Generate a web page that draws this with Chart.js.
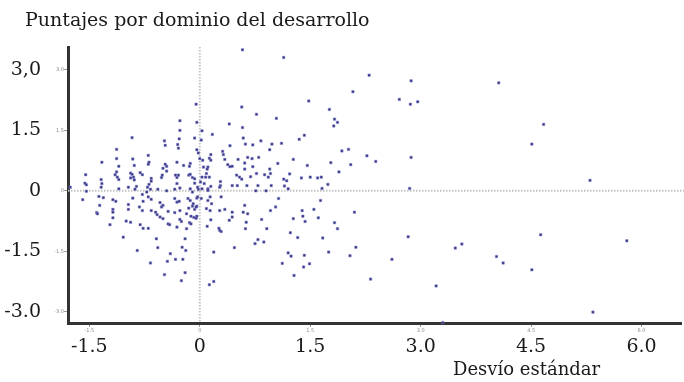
<!DOCTYPE html>
<html>
<head>
<meta charset="utf-8">
<script src="https://cdn.jsdelivr.net/npm/chart.js@4/dist/chart.umd.min.js"></script>
<style>
    html, body { margin: 0; padding: 0; background: #fff; }
    #wrap { width: 684px; height: 382px; position: relative; }
</style>
</head>
<body>
<div id="wrap"><canvas id="chart"></canvas></div>
<script>
// puntajes (x = desvío estándar, y = puntaje por dominio)
const xValues = [
    0.58, 1.14, 1.48, 1.76, 1.83, 1.87, 1.82, 0.57, 0.77, 1.04, 0.40, 0.58, 0.17, 0.59, 0.83, 0.62, 0.72, 0.41, 0.98, 1.11,
    1.35, 1.42, 0.95, 0.31, 0.32, 0.15, 0.13, 0.15, 0.65, 0.71, 0.80, 0.52, 0.34, 1.27, 0.61, 1.06, 1.78, 0.38, 0.41, 0.44,
    0.72, 1.46, 0.11, 0.10, 0.61, 0.95, 0.09, 0.77, 0.88, 0.93, 0.96, 0.50, 0.54, 0.57, 0.69, 1.22, 0.08, 0.13, 1.38, 1.50,
    1.60, 1.65, 1.14, 1.18, 0.28, 0.28, 0.44, 0.51, 0.64, 0.79, 0.97, 1.74, 1.66, 0.15, 0.11, 0.76, 0.90, 1.89,
    0.03, 0.02, 0.00, 0.04, 0.05, 0.03, 0.01, 0.06, 0.03,
    -0.05, -0.27, -0.27, -0.04, -0.92, -0.48, -0.47, -0.07, -0.28, -0.30, -0.29, -1.13, -0.04, -0.02, -0.70, -1.13, -0.91, -1.33, -0.69, -0.31,
    -0.22, -0.13, -0.14, -0.47, -0.45, -0.50, -1.10, -0.89, -0.70, -1.13, -1.15, -1.12, -1.10, -0.94, -0.92, -0.90, -0.89, -0.94, -0.81, -0.78,
    -1.55, -1.56, -1.54, -1.34, -1.33, -0.66, -0.66, -0.69, -0.71, -0.67, -0.51, -0.52, -0.45, -0.33, -0.31, -0.29, -0.15, -0.13, -0.10, -0.07,
    -0.31, -0.27, -0.07, -0.02, -0.97, -0.88, -0.57, -0.45, -1.76,
    -1.54, -1.34, -1.10, -0.86, -0.72, -0.34, -0.13, -0.10,
    -1.59, -1.37, -1.31, -1.18, -1.14, -0.91, -0.78, -0.70, -0.77, -0.66, -0.54, -0.50, -0.52, -0.34, -0.31, -0.28, -0.16, -0.13, -0.09, -0.04,
    -1.36, -0.97, -0.97, -0.82, -0.78, -1.40, -1.39, -1.18, -1.18, -0.60, -0.58, -0.54, -0.50, -0.66, -0.43, -0.34, -0.27, -0.18, -0.12, -0.08,
    -0.04, -0.15, -0.10, -0.07, -0.04, -1.18, -1.00, -0.94, -1.22, -0.81, -0.77, -0.70, -0.43, -0.41, -0.31, -0.27, -0.25, -0.14, -0.12, -0.18,
    -1.04, -0.59, -0.20, -0.57, -0.85, -0.24, -0.19, -0.40, -0.33, -0.23, -0.44, -0.67, -0.20, -0.48, -0.25,
    -0.03, 0.11, 0.27, 1.15, 1.20,
    -0.03, 0.02, 0.14, 0.11, 0.16, 0.29, 1.07, 1.64, -0.05, 0.09, 0.14, 0.27, 0.34, 0.44, 0.61, 0.59, 0.65, 1.03, 0.96, 1.39,
    1.40, 1.43, 1.55, 1.61, -0.05, 0.15, 0.44, 0.40, 0.63, 0.84, 1.27, 1.83, 1.87, 0.10, 0.26, 0.27, 0.29, 0.62, 0.91, 1.23,
    1.33, 1.67, 0.79, 0.75, 0.87, 0.47, 0.19, 1.20, 1.24, 1.42, 1.75, 1.12, 1.41, 1.49, 1.28, 0.13, 0.19,
    2.30, 2.87, 4.06, 2.08, 2.71, 2.86, 2.96, 1.93, 2.02, 2.27, 2.39, 2.87, 2.05, 2.85, 2.10, 2.83, 2.12, 2.04, 2.61, 3.47,
    3.56, 4.03, 4.12, 2.32, 3.21, 3.30,
    4.67, 4.51, 5.30, 4.63, 5.80, 4.51, 5.34
];
const yValues = [
    3.50, 3.31, 2.23, 2.02, 1.78, 1.70, 1.61, 2.08, 1.90, 1.80, 1.66, 1.57, 1.40, 1.31, 1.24, 1.16, 1.14, 1.12, 1.16, 1.18,
    1.28, 1.38, 1.02, 0.98, 0.90, 0.90, 0.81, 0.76, 0.83, 0.80, 0.83, 0.78, 0.78, 0.78, 0.69, 0.68, 0.70, 0.65, 0.60, 0.61,
    0.60, 0.63, 0.59, 0.54, 0.54, 0.54, 0.43, 0.43, 0.40, 0.34, 0.43, 0.39, 0.34, 0.29, 0.35, 0.42, 0.34, 0.34, 0.32, 0.34,
    0.32, 0.34, 0.29, 0.25, 0.23, 0.13, 0.13, 0.13, 0.13, 0.13, 0.13, 0.16, 0.06, 0.11, 0.05, 0.00, 0.00, 0.47,
    1.49, 1.26, 0.80, 0.76, 0.59, 0.34, 0.22, 0.18, 0.05,
    2.15, 1.74, 1.50, 1.70, 1.32, 1.24, 1.13, 1.31, 1.29, 1.15, 1.06, 1.03, 1.02, 0.94, 0.88, 0.80, 0.79, 0.71, 0.71, 0.71,
    0.63, 0.68, 0.61, 0.66, 0.61, 0.56, 0.61, 0.63, 0.66, 0.47, 0.40, 0.34, 0.28, 0.44, 0.41, 0.34, 0.27, 0.32, 0.45, 0.40,
    0.40, 0.19, 0.15, 0.28, 0.18, 0.31, 0.24, 0.16, 0.09, 0.04, 0.39, 0.33, 0.49, 0.39, 0.33, 0.39, 0.39, 0.41, 0.33, 0.30,
    0.18, 0.07, 0.19, 0.04, 0.09, 0.04, 0.04, 0.00, 0.09,
    -0.01, 0.09, 0.05, 0.11, -0.03, 0.04, 0.05, -0.03,
    -0.22, -0.14, -0.17, -0.22, -0.26, -0.18, -0.09, -0.15, -0.26, -0.21, -0.29, -0.36, -0.40, -0.19, -0.28, -0.26, -0.19, -0.24, -0.32, -0.18,
    -0.36, -0.34, -0.46, -0.40, -0.49, -0.54, -0.57, -0.46, -0.53, -0.53, -0.59, -0.65, -0.69, -0.49, -0.51, -0.54, -0.49, -0.57, -0.63, -0.66,
    -0.63, -0.43, -0.38, -0.46, -0.38, -0.67, -0.75, -0.78, -0.84, -0.84, -0.93, -0.93, -0.82, -0.84, -0.90, -0.71, -0.76, -0.79, -0.82, -0.94,
    -1.15, -1.19, -1.19, -1.41, -1.48, -1.40, -1.48, -1.56, -1.70, -1.70, -1.75, -1.79, -2.03, -2.08, -2.23,
    0.09, 0.01, 0.09, 0.12, 0.05,
    -0.15, -0.19, -0.15, -0.24, -0.32, -0.15, -0.19, -0.24, -0.40, -0.44, -0.49, -0.49, -0.46, -0.53, -0.36, -0.53, -0.57, -0.40, -0.49, -0.49,
    -0.63, -0.76, -0.46, -0.67, -0.68, -0.72, -0.65, -0.73, -0.78, -0.71, -0.69, -0.79, -0.94, -0.88, -0.93, -0.98, -1.01, -0.94, -0.94, -1.04,
    -1.16, -1.17, -1.21, -1.31, -1.27, -1.41, -1.52, -1.54, -1.62, -1.60, -1.52, -1.80, -1.89, -1.81, -2.10, -2.33, -2.25,
    2.87, 2.73, 2.68, 2.46, 2.27, 2.15, 2.21, 0.99, 1.03, 0.87, 0.73, 0.83, 0.65, 0.06, -0.53, -1.14, -1.40, -1.61, -1.70, -1.42,
    -1.32, -1.63, -1.79, -2.19, -2.36, -3.27,
    1.65, 1.16, 0.26, -1.09, -1.24, -1.96, -3.01
];

const xTicks = [-1.5, 0, 1.5, 3.0, 4.5, 6.0];
const xTickLabels = ['-1.5', '0', '1.5', '3.0', '4.5', '6.0'];
const xSmallLabels = ['-1.5', '0', '1.5', '3.0', '4.5', '6.0'];
const yTicks = [-3.0, -1.5, 0, 1.5, 3.0];
const yTickLabels = ['-3.0', '-1.5', '0', '1.5', '3,0'];
const ySmallLabels = ['-3.0', '-1.5', '0', '1.5', '3.0'];
const chartTitle = 'Puntajes por dominio del desarrollo';
const xAxisTitle = 'Desvío estándar';

const SERIF = '"DejaVu Serif", "Liberation Serif", serif';

const points = xValues.map((x, i) => ({ x: x, y: yValues[i] }));

// zero lines, small grey tick labels and the texts
const extras = {
    id: 'extras',
    beforeDatasetsDraw(chart) {
        const { ctx, chartArea: a, scales: { x, y } } = chart;
        const x0 = x.getPixelForValue(0);
        const y0 = y.getPixelForValue(0);
        ctx.save();
        ctx.strokeStyle = '#c4c4c4';
        ctx.lineWidth = 2;
        ctx.setLineDash([1.5, 1.5]);
        ctx.beginPath();
        ctx.moveTo(x0, a.top);
        ctx.lineTo(x0, a.bottom);
        ctx.moveTo(a.left, y0);
        ctx.lineTo(684, y0);
        ctx.stroke();
        ctx.restore();
    },
    afterDraw(chart) {
        const { ctx, chartArea: a, scales: { x, y } } = chart;
        ctx.save();
        ctx.fillStyle = '#8a8a8a';
        ctx.font = '5px "DejaVu Sans"';
        ctx.textAlign = 'center';
        ctx.textBaseline = 'middle';
        xTicks.forEach((v, i) => ctx.fillText(xSmallLabels[i], x.getPixelForValue(v), a.bottom + 8));
        ctx.textAlign = 'right';
        yTicks.forEach((v, i) => ctx.fillText(ySmallLabels[i], a.left - 4, y.getPixelForValue(v)));

        ctx.fillStyle = '#1a1a1a';
        ctx.textAlign = 'left';
        ctx.font = '19px ' + SERIF;
        ctx.fillText(chartTitle, 25, 21);
        ctx.font = '18px ' + SERIF;
        ctx.fillText(xAxisTitle, 453, 370);
        ctx.restore();
    }
};

new Chart(document.getElementById('chart'), {
    type: 'scatter',
    data: {
        datasets: [{
            data: points,
            pointStyle: 'rect',
            pointRadius: 1.7,
            pointHoverRadius: 1.7,
            backgroundColor: '#2f2f7c',
            borderColor: 'rgba(130,130,200,0.55)',
            borderWidth: 1,
            clip: false,
        }],
    },
    options: {
        responsive: true,
        maintainAspectRatio: false,
        animation: false,
        layout: { padding: { left: 0, top: 47, right: 2, bottom: 0 } },
        plugins: { legend: { display: false }, tooltip: { enabled: false } },
        scales: {
            x: {
                type: 'linear',
                min: -1.79,
                max: 6.54,
                afterBuildTicks: s => { s.ticks = xTicks.map(v => ({ value: v })); },
                afterFit: s => { s.height = 59; },
                grid: { drawOnChartArea: false, tickLength: 4, color: '#999' },
                border: { color: '#333', width: 3 },
                ticks: {
                    autoSkip: false,
                    maxRotation: 0,
                    padding: 9,
                    color: '#1a1a1a',
                    font: { family: SERIF, size: 19 },
                    callback: (v, i) => xTickLabels[i],
                },
            },
            y: {
                type: 'linear',
                min: -3.28,
                max: 3.57,
                afterBuildTicks: s => { s.ticks = yTicks.map(v => ({ value: v })); },
                afterFit: s => { s.width = 68; },
                grid: { drawOnChartArea: false, tickLength: 4, color: '#999' },
                border: { color: '#333', width: 3 },
                ticks: {
                    autoSkip: false,
                    padding: 23,
                    color: '#1a1a1a',
                    font: { family: SERIF, size: 19 },
                    callback: (v, i) => yTickLabels[i],
                },
            },
        },
    },
    plugins: [extras],
});
</script>
</body>
</html>
